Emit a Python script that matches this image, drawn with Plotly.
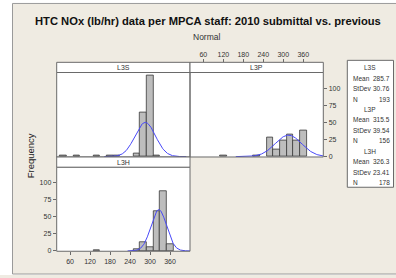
import numpy as np
import plotly.graph_objects as go

W, H = 396, 278

# ---- data ----
panels = ["L3S", "L3P", "L3H"]
l3s_bins = [40, 80, 140, 180, 200, 260, 280, 300, 320]
l3s_counts = [1, 1, 1, 1, 1, 5, 64, 118, 1]
l3p_bins = [120, 220, 260, 280, 300, 320, 340, 360]
l3p_counts = [1, 1, 28, 10, 23, 32, 23, 38]
l3h_bins = [140, 260, 280, 300, 320, 340, 360]
l3h_counts = [1, 3, 13, 5, 58, 88, 10]
means = [285.7, 315.5, 326.3]
stdevs = [30.76, 39.54, 23.41]
ns = [193, 156, 178]
bin_width = 20
x_ticks = [60, 120, 180, 240, 300, 360]
y_ticks = [0, 25, 50, 75, 100]

BEIGE = "#EFEBE2"
BAR = "#BDBDBD"
EDGE = "#3A3A3A"
BORDER = "#6A6A6A"
BLUE = "#4848F8"
TXT = "#333333"
FONT = "Liberation Sans, Arial, sans-serif"

def px(x):
    return x / W

def py(y):
    return 1 - y / H

# panel geometry (pixels)
xl0, xl1 = 56.7, 190.0
xr0, xr1 = 190.0, 323.3
top_head = (63.0, 73.3)
top_plot = (73.3, 158.7)
bot_head = (158.7, 169.0)
bot_plot = (169.0, 254.0)

fig = go.Figure()

series = [(l3s_bins, l3s_counts, "x", "y"),
          (l3p_bins, l3p_counts, "x2", "y2"),
          (l3h_bins, l3h_counts, "x3", "y3")]

for i, (bins, counts, xa, ya) in enumerate(series):
    fig.add_trace(go.Bar(x=bins, y=counts, width=bin_width, xaxis=xa, yaxis=ya,
                         marker=dict(color=BAR, line=dict(color=EDGE, width=0.8)),
                         showlegend=False, hoverinfo="skip"))
    m, s, n = means[i], stdevs[i], ns[i]
    xs = np.linspace(max(20, m - 4 * s), min(420, m + 4 * s), 200)
    ys = n * bin_width * np.exp(-0.5 * ((xs - m) / s) ** 2) / (s * np.sqrt(2 * np.pi))
    fig.add_trace(go.Scatter(x=xs, y=ys, mode="lines", xaxis=xa, yaxis=ya,
                             line=dict(color=BLUE, width=1),
                             showlegend=False, hoverinfo="skip"))

xr = [20, 420]
yr = [-0.5, 123]
hidden = dict(showticklabels=False, ticks="", showgrid=False, zeroline=False, showline=False)
tick_font = dict(family=FONT, size=7, color=TXT)
shown = dict(showgrid=False, zeroline=False, showline=False, ticks="outside", ticklen=3,
             tickwidth=1, tickcolor=BORDER, tickfont=tick_font)

fig.update_layout(
    width=W, height=H, autosize=False, margin=dict(l=0, r=0, t=0, b=0, pad=0),
    paper_bgcolor=BEIGE, plot_bgcolor="white", bargap=0, barmode="overlay",
    xaxis=dict(domain=[px(xl0), px(xl1)], anchor="y", range=xr, **hidden),
    yaxis=dict(domain=[py(top_plot[1]), py(top_plot[0])], anchor="x", range=yr, **hidden),
    xaxis2=dict(domain=[px(xr0), px(xr1)], anchor="free", position=py(top_head[0]),
                side="top", range=xr, tickvals=x_ticks, **shown),
    yaxis2=dict(domain=[py(top_plot[1]), py(top_plot[0])], anchor="x2", side="right",
                range=yr, tickvals=y_ticks, **shown),
    xaxis3=dict(domain=[px(xl0), px(xl1)], anchor="y3", range=xr, tickvals=x_ticks, **shown),
    yaxis3=dict(domain=[py(bot_plot[1]), py(bot_plot[0])], anchor="x3", range=yr,
                tickvals=y_ticks, **shown),
)

shapes = []
# white margins outside the beige frame
shapes.append(dict(type="rect", xref="paper", yref="paper", x0=0, x1=px(12), y0=0, y1=1,
                   fillcolor="white", line=dict(width=0), layer="below"))
shapes.append(dict(type="rect", xref="paper", yref="paper", x0=0, x1=1, y0=py(3.5), y1=1,
                   fillcolor="white", line=dict(width=0), layer="below"))
shapes.append(dict(type="rect", xref="paper", yref="paper", x0=0, x1=1, y0=0, y1=py(277),
                   fillcolor="white", line=dict(width=0), layer="below"))
shapes.append(dict(type="line", xref="paper", yref="paper", x0=px(12.5), x1=px(12.5),
                   y0=py(277), y1=py(3.5), line=dict(color="#9A9A9A", width=1)))
shapes.append(dict(type="line", xref="paper", yref="paper", x0=px(12.5), x1=1,
                   y0=py(3.5), y1=py(3.5), line=dict(color="#9A9A9A", width=1)))
shapes.append(dict(type="line", xref="paper", yref="paper", x0=px(12.5), x1=1,
                   y0=py(277), y1=py(277), line=dict(color="#9A9A9A", width=1)))

def rect(x0, x1, y0, y1, fill=None):
    d = dict(type="rect", xref="paper", yref="paper", x0=px(x0), x1=px(x1),
             y0=py(y1), y1=py(y0), line=dict(color=BORDER, width=1), layer="above")
    if fill:
        d["fillcolor"] = fill
    return d

# panel borders and headers
shapes.append(rect(xl0, xl1, *top_plot))
shapes.append(rect(xr0, xr1, *top_plot))
shapes.append(rect(xl0, xl1, *bot_plot))
shapes.append(rect(xl0, xl1, *top_head, fill="white"))
shapes.append(rect(xr0, xr1, *top_head, fill="white"))
shapes.append(rect(xl0, xl1, *bot_head, fill="white"))
# stats box
shapes.append(rect(347.3, 393.5, 61.0, 189.3, fill="white"))
fig.update_layout(shapes=shapes)

ann = []
def text(x, y, s, size=7, anchor="center", color=TXT, angle=0):
    ann.append(dict(xref="paper", yref="paper", x=px(x), y=py(y), text=s, showarrow=False,
                    xanchor=anchor, yanchor="middle", textangle=angle,
                    font=dict(family=FONT, size=size, color=color)))

text(208, 21.5, "<b>HTC NOx (lb/hr) data per MPCA staff: 2010 submittal vs. previous</b>",
     size=11.2, color="#111111")
text(207, 37.5, "Normal", size=8.5)
text(30, 158, "Frequency", size=9.5, angle=-90, color="#222222")
text((xl0 + xl1) / 2, sum(top_head) / 2, panels[0], size=7)
text((xr0 + xr1) / 2, sum(top_head) / 2, panels[1], size=7)
text((xl0 + xl1) / 2, sum(bot_head) / 2, panels[2], size=7)

y = 68.5
step = 10.55
for i, name in enumerate(panels):
    text(370.3, y, name, size=6.5)
    y += step
    for lab, val in [("Mean", f"{means[i]:.1f}"), ("StDev", f"{stdevs[i]:.2f}"), ("N", f"{ns[i]}")]:
        text(350.5, y, lab, size=6.5, anchor="left")
        text(392.0, y, val, size=6.5, anchor="right")
        y += step

fig.update_layout(annotations=ann)
fig.write_html("out.html",
               config={"displayModeBar": False, "responsive": False},
               post_script=("document.body.style.margin='0';document.body.style.padding='0';"
                            "document.body.style.overflow='hidden';"
                            "document.documentElement.style.overflow='hidden';"))
